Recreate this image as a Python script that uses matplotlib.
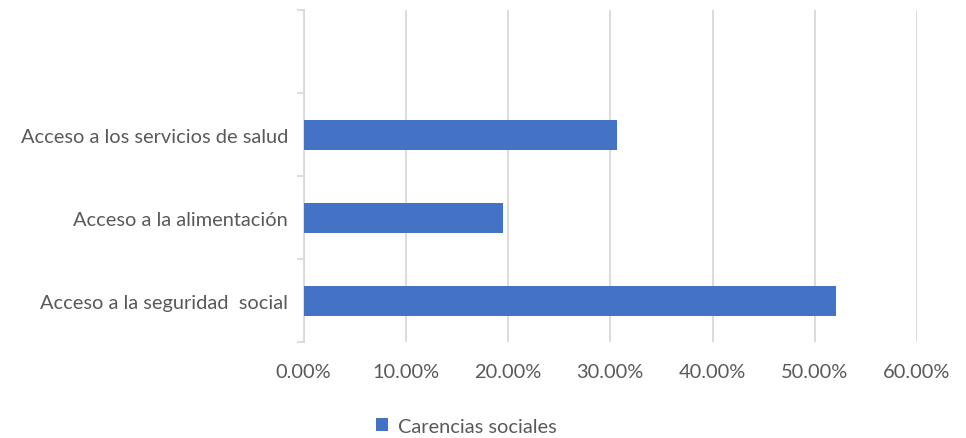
import matplotlib
matplotlib.use("Agg")
import matplotlib.pyplot as plt
import numpy as np
from matplotlib.ticker import FixedLocator, PercentFormatter
from matplotlib.patches import Patch

categories = ["Acceso a la seguridad  social", "Acceso a la alimentación", "Acceso a los servicios de salud", ""]
values = [52.05, 19.5, 30.7, None]
series_name = "Carencias sociales"
xticks = [0, 10, 20, 30, 40, 50, 60]

plt.rcParams['font.family'] = ['Lato', 'DejaVu Sans']
txt = '#595959'
bar_color = '#4472C4'
fs = 14.4

fig = plt.figure(figsize=(9.66, 4.39), dpi=100)
ax = fig.add_axes([0.3142, 0.218, 0.9493 - 0.3142, 0.975 - 0.218])

ypos = np.arange(len(categories))
for y, v in zip(ypos, values):
    if v is not None:
        ax.barh(y, v, height=0.36, color=bar_color, zorder=3)

ax.set_xlim(0, 60)
ax.set_ylim(-0.5, len(categories) - 0.5)
ax.set_xticks(xticks)
ax.xaxis.set_major_formatter(PercentFormatter(decimals=2))
ax.tick_params(axis='x', length=0, pad=15, labelsize=fs, labelcolor=txt)
ax.grid(axis='x', color='#d9d9d9', linewidth=1.3, zorder=0)

ax.set_yticks(ypos)
ax.set_yticklabels(categories)
ax.tick_params(axis='y', which='major', length=0, pad=11, labelsize=fs, labelcolor=txt)
ax.yaxis.set_minor_locator(FixedLocator(np.arange(-0.5, len(categories), 1.0)))
ax.tick_params(axis='y', which='minor', length=5, width=1.3, color='#d9d9d9')

for s in ['top', 'right', 'bottom']:
    ax.spines[s].set_visible(False)
ax.spines['left'].set_color('#d9d9d9')
ax.spines['left'].set_linewidth(1.3)

handles = [Patch(facecolor=bar_color, label=series_name)]
fig.legend(handles=handles, loc='center', bbox_to_anchor=(0.483, 0.027), frameon=False,
           fontsize=fs, labelcolor=txt, handlelength=0.6, handleheight=0.6, handletextpad=0.5)

fig.savefig('out.png', dpi=100)
